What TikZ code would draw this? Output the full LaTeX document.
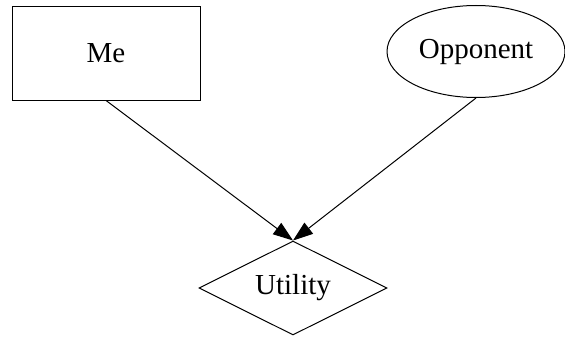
\documentclass[tikz,border=0pt]{standalone}
\usepackage{fontspec}
\setmainfont{Liberation Serif}
\usetikzlibrary{shapes.geometric,arrows.meta}

\begin{document}
\begin{tikzpicture}[x=1pt,y=-1pt,line width=1pt,
  every node/.style={font=\fontsize{29}{34}\selectfont},
  decnode/.style={draw,rectangle,minimum width=188pt,minimum height=93pt},
  chancenode/.style={draw,ellipse,minimum width=178pt,minimum height=92pt,inner sep=0pt},
  utilnode/.style={draw,diamond,minimum width=188pt,minimum height=94pt,aspect=2,inner sep=0pt},
  link/.style={-{Triangle[length=20pt,width=14pt]}}]
\useasboundingbox (0,0) rectangle (565,337);
\node[decnode] (Me) at (106,53.5) {Me};
\node[chancenode] (Opp) at (476,51.5) {Opponent};
\node[utilnode] (U) at (293,288) {Utility};
\draw[link] (Me.south) -- (U.north);
\draw[link] (Opp.south) -- (U.north);
\end{tikzpicture}
\end{document}
